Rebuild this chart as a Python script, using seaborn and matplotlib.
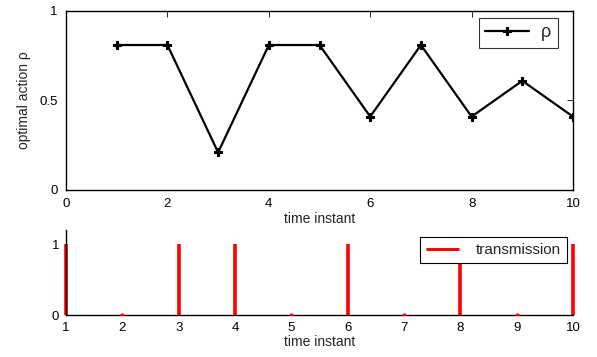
import matplotlib
matplotlib.use("Agg")
import matplotlib.pyplot as plt
import seaborn as sns
import pandas as pd

time = [1, 2, 3, 4, 5, 6, 7, 8, 9, 10]
rho = [0.81, 0.81, 0.21, 0.81, 0.81, 0.41, 0.81, 0.41, 0.61, 0.41]
transmission = [1, 0, 1, 1, 0, 1, 0, 1, 0, 1]

sns.set_theme(style="white")
plt.rcParams['font.family'] = ['Liberation Sans', 'DejaVu Sans']
plt.rcParams['font.size'] = 9.5

fig = plt.figure(figsize=(5.97, 3.57), dpi=100)
ax1 = fig.add_axes([0.1106, 0.4678, 0.8492, 0.5014])
ax2 = fig.add_axes([0.1106, 0.1176, 0.8492, 0.2381])

df = pd.DataFrame({"t": time, "rho": rho, "tx": transmission})

sns.lineplot(data=df, x="t", y="rho", ax=ax1, color="black", lw=1.6,
             marker="P", markersize=6, markeredgewidth=0.8,
             markeredgecolor="black", markerfacecolor="black", label="ρ")
ax1.set_xlim(0, 10)
ax1.set_ylim(0, 1)
ax1.set_xticks([0, 2, 4, 6, 8, 10])
ax1.set_yticks([0, 0.5, 1])
ax1.set_yticklabels(["0", "0.5", "1"])
ax1.set_xlabel("time instant", fontsize=10, labelpad=1)
ax1.set_ylabel("optimal action ρ", fontsize=10, labelpad=6)
ax1.tick_params(direction="in", top=True, right=True, length=4, width=0.6,
                labelsize=9.5, colors="black", pad=6)
for s in ax1.spines.values():
    s.set_color("black")
    s.set_linewidth(1.0)
leg1 = ax1.legend(loc="upper right", fontsize=13, frameon=True, fancybox=False,
                  handlelength=2.4, handletextpad=0.7, borderpad=0.35,
                  borderaxespad=0, bbox_to_anchor=(0.970, 0.961))
leg1.get_frame().set_edgecolor("black")
leg1.get_frame().set_linewidth(0.8)

ax2.vlines(df["t"], 0, df["tx"], color="red", lw=2.6, label="transmission", clip_on=False)
ax2.scatter(df["t"][df["tx"] == 0], [0] * int((df["tx"] == 0).sum()), color="red", s=4, zorder=3)
ax2.set_xlim(1, 10)
ax2.set_ylim(0, 1.2)
ax2.set_xticks(time)
ax2.set_yticks([0, 1])
ax2.set_xlabel("time instant", fontsize=10, labelpad=1)
ax2.tick_params(direction="in", length=4, width=0.6, labelsize=9.5, colors="black", pad=5)
ax2.spines["top"].set_visible(False)
ax2.spines["right"].set_visible(False)
for s in ["left", "bottom"]:
    ax2.spines[s].set_color("black")
    ax2.spines[s].set_linewidth(1.0)
leg2 = ax2.legend(loc="upper right", fontsize=11, frameon=True, fancybox=False,
                  handlelength=2.15, handletextpad=1.1, borderpad=0.4,
                  borderaxespad=0, bbox_to_anchor=(0.988, 0.92))
leg2.get_frame().set_edgecolor("black")
leg2.get_frame().set_linewidth(0.8)
leg2.get_frame().set_alpha(1)
for h in leg2.get_lines() + list(leg2.legend_handles):
    try:
        h.set_linewidth(2.2)
    except Exception:
        pass

fig.savefig("out.png", dpi=100)
